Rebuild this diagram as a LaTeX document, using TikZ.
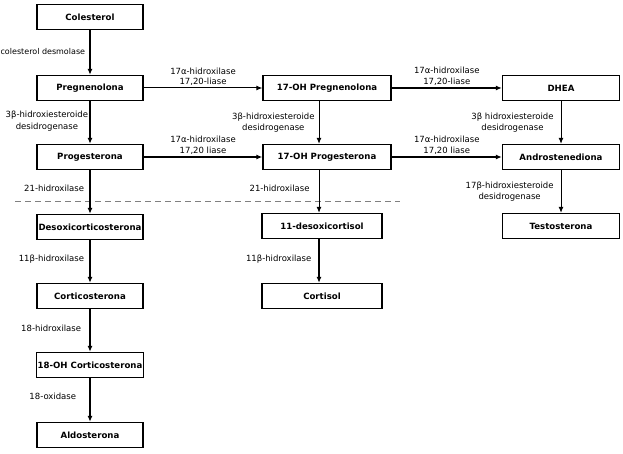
\documentclass[tikz,border=0pt]{standalone}
\usepackage{fontspec}
\setmainfont{DejaVu Sans}
\usetikzlibrary{arrows.meta,positioning}

\begin{document}
\begin{tikzpicture}[
        x=1pt, y=1pt,
        font=\fontsize{8.5}{11}\selectfont,
        hormone/.style={rectangle, draw=black, line width=1.3pt, minimum height=25pt, inner sep=1pt, align=center, font=\fontsize{8.6}{10}\selectfont\bfseries, fill=white},
        lbox/.style={hormone, minimum width=106pt},
        mbox/.style={hormone, minimum width=128pt},
        rbox/.style={hormone, minimum width=117pt},
        mainstep/.style={-{Latex[length=6pt,width=5pt]}, line width=1.8pt},
        sidestep/.style={-{Latex[length=6pt,width=5pt]}, line width=1pt},
        enzyme/.style={left, align=center, inner sep=1pt, font=\fontsize{8.5}{11.5}\selectfont},
        enzymeh/.style={above, align=center, inner sep=2pt, font=\fontsize{8.5}{10.5}\selectfont},
        separator/.style={dashed, dash pattern=on 6pt off 4pt, gray, line width=0.8pt},
    ]
    \useasboundingbox (0,0) rectangle (623,-454);

    % Left column: mineralocorticoids
    \node[lbox] (cole)    at (90,-17)  {Colesterol};
    \node[lbox] (preg)    at (90,-88)  {Pregnenolona};
    \node[lbox] (prog)    at (90,-157) {Progesterona};
    \node[lbox] (desoxi)  at (90,-227) {Desoxicorticosterona};
    \node[lbox] (cortico) at (90,-296) {Corticosterona};
    \node[lbox] (ohcort)  at (90,-365) {18-OH Corticosterona};
    \node[lbox] (aldo)    at (90,-435) {Aldosterona};

    % Middle column: glucocorticoids
    \node[mbox] (ohpreg)  at (327,-88)  {17-OH Pregnenolona};
    \node[mbox] (ohprog)  at (327,-157) {17-OH Progesterona};
    \node[hormone, minimum width=120pt] (desoxic) at (322,-226) {11-desoxicortisol};
    \node[hormone, minimum width=120pt] (cortis)  at (322,-296) {Cortisol};

    % Right column: androgens
    \node[rbox] (dhea)    at (561,-88)  {DHEA};
    \node[rbox] (andro)   at (561,-157) {Androstenediona};
    \node[rbox] (testo)   at (561,-226) {Testosterona};

    % separator
    \draw[separator] (15,-201) -- (400,-201);

    % vertical steps, left
    \draw[mainstep] (cole) -- node[enzyme, pos=0.47, xshift=-3pt, font=\fontsize{8}{10}\selectfont]{colesterol desmolase} (preg);
    \draw[mainstep] (preg) -- node[enzyme, pos=0.47]{3β-hidroxiesteroide\\desidrogenase} (prog);
    \draw[mainstep] (prog) -- node[enzyme, pos=0.42, xshift=-4pt]{21-hidroxilase} (desoxi);
    \draw[mainstep] (desoxi) -- node[enzyme, pos=0.45, xshift=-4pt]{11β-hidroxilase} (cortico);
    \draw[mainstep] (cortico) -- node[enzyme, pos=0.45, xshift=-7pt]{18-hidroxilase} (ohcort);
    \draw[mainstep] (ohcort) -- node[enzyme, pos=0.42, xshift=-12pt]{18-oxidase} (aldo);

    % vertical steps, middle
    \draw[sidestep] ([xshift=-8pt]ohpreg.south) -- node[enzyme, pos=0.5, xshift=-3pt]{3β-hidroxiesteroide\\desidrogenase} ([xshift=-8pt]ohprog.north);
    \draw[sidestep] ([xshift=-8pt]ohprog.south) -- node[enzyme, pos=0.42, xshift=-8pt]{21-hidroxilase} ([xshift=-3pt]desoxic.north);
    \draw[sidestep, line width=1.3pt] ([xshift=-3pt]desoxic.south) -- node[enzyme, pos=0.45, xshift=-6pt]{11β-hidroxilase} ([xshift=-3pt]cortis.north);

    % vertical steps, right
    \draw[sidestep] (dhea) -- node[enzyme, pos=0.5, xshift=-6pt]{3β hidroxiesteroide\\desidrogenase} (andro);
    \draw[sidestep] (andro) -- node[enzyme, pos=0.5, xshift=-6pt]{17β-hidroxiesteroide\\desidrogenase} (testo);

    % horizontal steps
    \draw[sidestep] (preg) -- node[enzymeh]{17α-hidroxilase\\17,20-liase} (ohpreg);
    \draw[mainstep] (prog) -- node[enzymeh]{17α-hidroxilase\\17,20 liase} (ohprog);
    \draw[mainstep] (ohpreg) -- node[enzymeh]{17α-hidroxilase\\17,20-liase} (dhea);
    \draw[sidestep, line width=1.3pt] (ohprog) -- node[enzymeh]{17α-hidroxilase\\17,20 liase} (andro);
\end{tikzpicture}
\end{document}
